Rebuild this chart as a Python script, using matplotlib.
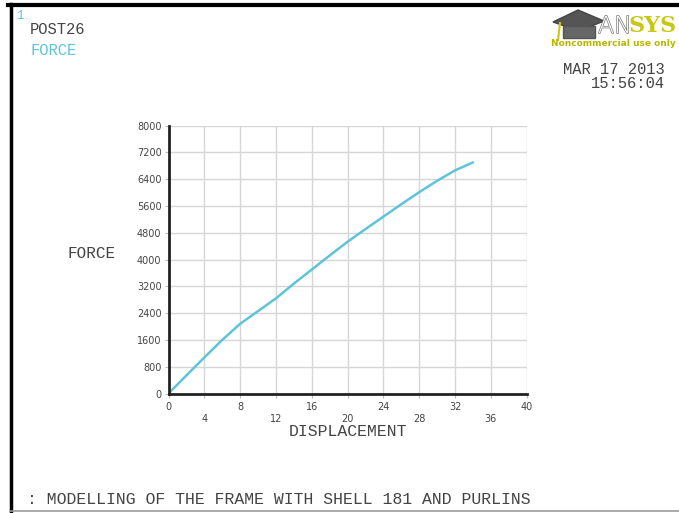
import matplotlib
matplotlib.use("Agg")
import matplotlib.pyplot as plt
from matplotlib.patches import Polygon
from matplotlib.lines import Line2D
import matplotlib.patheffects as pe

# Data
displacement = [0, 2, 4, 6, 7, 8, 10, 12, 14, 16, 18, 20, 22, 24, 26, 28, 30, 32, 34.1]
force = [0, 540, 1075, 1600, 1840, 2080, 2460, 2840, 3280, 3700, 4120, 4530, 4910, 5280, 5650, 6010, 6350, 6660, 6910]
x_ticks = [0, 4, 8, 12, 16, 20, 24, 28, 32, 36, 40]
y_ticks = [0, 800, 1600, 2400, 3200, 4000, 4800, 5600, 6400, 7200, 8000]

W, H = 679, 513
fig = plt.figure(figsize=(W / 100, H / 100), dpi=100)
fig.patch.set_facecolor("white")

def fx(px):
    return px / W

def fy(py):
    return 1 - py / H

mono = "Liberation Mono"
blue = "#5ec4d8"
dark = "#444444"

ax = fig.add_axes([fx(168.5), fy(393.5), fx(526.7) - fx(168.5), fy(125.5) - fy(393.5)])
ax.plot(displacement, force, color=blue, lw=1.8, solid_capstyle="butt")
ax.set_xlim(0, 40)
ax.set_ylim(0, 8000)
ax.set_xticks(x_ticks)
ax.set_yticks(y_ticks)
ax.grid(True, color="#d6d6d6", lw=1.0)
ax.set_axisbelow(True)
for s in ["top", "right"]:
    ax.spines[s].set_visible(False)
for s in ["left", "bottom"]:
    ax.spines[s].set_color("#222222")
    ax.spines[s].set_linewidth(2.0)
ax.tick_params(axis="both", length=3, width=0.8, color="#bbbbbb", direction="out")
ax.tick_params(axis="y", pad=2)
ax.set_yticklabels([str(v) for v in y_ticks], fontsize=7, color=dark)
ax.set_xticklabels([])
# staggered x tick labels
for i, v in enumerate(x_ticks):
    off = 0 if i % 2 == 0 else 8
    ax.annotate(str(v), xy=(v, 0), xycoords="data", xytext=(0, -10 - off),
                textcoords="offset points", ha="center", va="center",
                fontsize=7, color=dark)

# Axis labels
fig.text(fx(347.5), fy(432), "DISPLACEMENT", family=mono, fontsize=11.9, color=dark,
         ha="center", va="center")
fig.text(fx(92), fy(254), "FORCE", family=mono, fontsize=11.5, color=dark,
         ha="center", va="center")

# Header texts
fig.text(fx(16), fy(16), "1", family=mono, fontsize=9, color=blue, ha="left", va="center")
fig.text(fx(30), fy(30), "POST26", family=mono, fontsize=11.2, color=dark, ha="left", va="center")
fig.text(fx(30), fy(51), "FORCE", family=mono, fontsize=11.2, color=blue, ha="left", va="center")
fig.text(fx(665), fy(70), "MAR 17 2013", family=mono, fontsize=11.2, color=dark, ha="right", va="center")
fig.text(fx(665), fy(84), "15:56:04", family=mono, fontsize=11.2, color=dark, ha="right", va="center")

# Footer
fig.text(fx(27), fy(500), ": MODELLING OF THE FRAME WITH SHELL 181 AND PURLINS", family=mono,
         fontsize=11.9, color=dark, ha="left", va="center")

# Logo (mortarboard + ANSYS)
cap = Polygon([[fx(553), fy(22)], [fx(578), fy(10)], [fx(604), fy(21)], [fx(579), fy(31)]],
              closed=True, transform=fig.transFigure, facecolor="#555555", edgecolor="#444444")
fig.add_artist(cap)
cap2 = Polygon([[fx(563), fy(26)], [fx(595), fy(26)], [fx(595), fy(38)], [fx(563), fy(38)]],
               closed=True, transform=fig.transFigure, facecolor="#666666", edgecolor="#555555")
fig.add_artist(cap2)
fig.add_artist(Line2D([fx(560), fx(558)], [fy(23), fy(40)], transform=fig.transFigure,
                      color="#c9c915", lw=1.5))
t_an = fig.text(fx(598), fy(26), "AN", fontsize=17, color="white", ha="left", va="center",
                family="DejaVu Sans", fontweight="light")
t_an.set_path_effects([pe.withStroke(linewidth=1.0, foreground="#777777")])
fig.text(fx(677), fy(26), "SYS", fontsize=16, color="#c8c814", ha="right", va="center",
         family="DejaVu Serif", fontweight="bold")
fig.text(fx(551), fy(44), "Noncommercial use only", fontsize=6.5, color="#b8b800",
         ha="left", va="center", family="DejaVu Sans", fontweight="bold")

# Frame border
fig.add_artist(Line2D([fx(8), fx(679)], [fy(4.5), fy(4.5)], transform=fig.transFigure,
                      color="black", lw=3))
fig.add_artist(Line2D([fx(10.5), fx(10.5)], [fy(4), fy(513)], transform=fig.transFigure,
                      color="black", lw=2.5))
fig.add_artist(Line2D([fx(10), fx(679)], [fy(510.5), fy(510.5)], transform=fig.transFigure,
                      color="#999999", lw=1.2))

fig.savefig("out.png", dpi=100)
